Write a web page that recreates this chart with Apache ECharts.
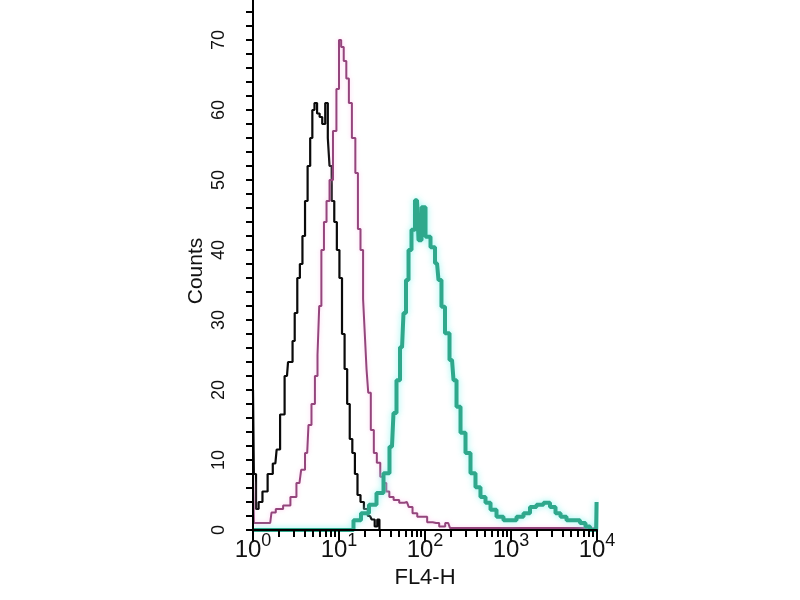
<!DOCTYPE html>
<html>
<head>
<meta charset="utf-8">
<script src="https://cdn.jsdelivr.net/npm/echarts@6/dist/echarts.min.js"></script>
<style>html,body{margin:0;padding:0;background:#fff}#c{width:800px;height:600px}</style>
</head>
<body>
<div id="c"></div>
<script>
// FL4-H positions given as decade exponents (10^e), counts
const blackExp    = [0.00,0.02,0.05,0.08,0.14,0.20,0.26,0.29,0.34,0.395,0.42,0.45,0.47,0.50,0.53,0.56,0.59,0.62,0.65,0.68,0.70,0.73,0.76,0.79,0.82,0.86,0.88,0.90,0.93,0.96,0.99,1.02,1.05,1.08,1.11,1.14,1.17,1.20,1.23,1.27,1.31,1.36,1.40,1.43,1.46,1.48,2.00,3.00,4.00];
const blackCounts = [20,8,3,4,5.5,8,9.5,11.5,16.5,22,24,24,27,31,36,38,42,47,52,56,60,61,59.5,59,58,61,56,52,47,44,40,36,28,23,18,13,11,8,5,4,3,2,1.5,0.5,1.5,0,0,0,0];

const magentaExp    = [0.00,0.02,0.05,0.20,0.23,0.30,0.40,0.47,0.54,0.58,0.63,0.66,0.70,0.74,0.76,0.78,0.81,0.84,0.87,0.91,0.95,0.99,1.01,1.04,1.07,1.10,1.13,1.17,1.21,1.23,1.27,1.29,1.31,1.33,1.35,1.39,1.42,1.46,1.50,1.53,1.57,1.60,1.67,1.73,1.79,1.83,1.88,1.94,2.00,2.05,2.13,2.20,2.27,2.31,3.00,4.00];
const magentaCounts = [7,1,1,1,2.5,3,3.5,4.7,6.7,8.6,11,15,18,22,25,32,40,44,47,50,57,63,70,69,67,64.5,61,56,51,43,40,33,28,23,19.6,14.3,11,9.6,7.6,6.7,5.5,4.7,4.3,3.9,4,3.3,2.4,1.9,1.9,1.1,1,0.5,1,0.3,0.3,0.3];

const tealExp    = [0.00,0.50,1.00,1.128,1.209,1.302,1.395,1.477,1.558,1.616,1.651,1.686,1.733,1.767,1.791,1.826,1.860,1.907,1.942,1.977,2.035,2.093,2.140,2.174,2.209,2.256,2.314,2.349,2.384,2.442,2.500,2.558,2.616,2.674,2.733,2.791,2.872,2.953,3.023,3.105,3.186,3.256,3.337,3.419,3.488,3.547,3.605,3.686,3.767,3.837,3.895,3.942,3.990,4.000];
const tealCounts = [0,0,0,0,1.4,2.4,3.6,5.3,8.1,11.9,16.7,21.4,26.1,31,35.7,40,42.9,47.1,41.4,46.1,41.9,40.4,38.1,35.7,31.9,28.1,24.3,21.4,17.6,13.9,11,8.1,6.1,4.7,3.9,2.9,1.9,1.4,1.4,1.9,2.4,3.3,3.6,3.9,3.3,2.4,1.9,1.4,1.4,1,0.5,0,0,4];

const majorTicks = [1,10,100,1000,10000];
const minorTicks = [];
[1,10,100,1000].forEach(d => { for (let m = 2; m <= 9; m++) minorTicks.push(m * d); });

function pairs(exp, cnt) { return exp.map((e, i) => [Math.pow(10, e), cnt[i]]); }

const chart = echarts.init(document.getElementById('c'), null, {renderer: 'canvas'});
const font = 'Liberation Sans, Arial, sans-serif';
chart.setOption({
  animation: false,
  backgroundColor: '#ffffff',
  grid: {left: 253, right: 203, top: -30, bottom: 70, containLabel: false, outerBoundsMode: 'none'},
  xAxis: [{
    type: 'log', logBase: 10, min: 1, max: 10000, z: 10,
    name: 'FL4-H', nameLocation: 'middle', nameGap: 27,
    nameTextStyle: {fontFamily: font, fontSize: 22, color: '#111'},
    axisLine: {show: true, lineStyle: {color: '#000', width: 2}},
    axisTick: {show: true, inside: false, length: 11, lineStyle: {color: '#000', width: 2}, customValues: majorTicks},
    axisLabel: {
      show: true, margin: 8, customValues: majorTicks,
      formatter: v => '{b|10}{s|' + Math.round(Math.log10(v)) + '}',
      rich: {
        b: {fontFamily: font, fontSize: 24, lineHeight: 24, color: '#111', verticalAlign: 'bottom'},
        s: {fontFamily: font, fontSize: 18, lineHeight: 18, color: '#111', verticalAlign: 'bottom', padding: [0, 0, 12, 0]}
      }
    },
    splitLine: {show: false}, minorTick: {show: false}, minorSplitLine: {show: false}
  }, {
    type: 'log', logBase: 10, min: 1, max: 10000, position: 'bottom', z: 10,
    axisLine: {show: false},
    axisTick: {show: true, inside: false, length: 7, lineStyle: {color: '#000', width: 2}, customValues: minorTicks},
    axisLabel: {show: false},
    splitLine: {show: false}
  }],
  yAxis: {
    type: 'value', min: 0, max: 80, interval: 10, z: 10,
    axisLine: {show: true, lineStyle: {color: '#000', width: 2}},
    axisTick: {show: true, inside: false, length: 7, lineStyle: {color: '#000', width: 2}},
    minorTick: {show: true, splitNumber: 5, length: 7, lineStyle: {color: '#000', width: 2}},
    axisLabel: {show: true, rotate: 90, margin: 25, fontFamily: font, fontSize: 18, color: '#111'},
    splitLine: {show: false}
  },
  graphic: [{
    type: 'text', x: 196, y: 271, rotation: Math.PI / 2,
    style: {text: 'Counts', fontFamily: font, fontSize: 21, fill: '#111', align: 'center', verticalAlign: 'middle'}
  }],
  series: [{
    type: 'line', xAxisIndex: 0, step: 'middle', showSymbol: false, symbol: 'none',
    data: pairs(blackExp, blackCounts),
    lineStyle: {color: '#0a0a0a', width: 2.2}
  }, {
    type: 'line', xAxisIndex: 0, step: 'middle', showSymbol: false, symbol: 'none',
    data: pairs(magentaExp, magentaCounts),
    lineStyle: {color: '#94457c', width: 2, shadowColor: 'rgba(255,190,235,0.7)', shadowBlur: 4}
  }, {
    type: 'line', xAxisIndex: 0, step: 'middle', showSymbol: false, symbol: 'none',
    data: pairs(tealExp, tealCounts),
    lineStyle: {color: '#2fa88c', width: 4, shadowColor: 'rgba(140,245,240,0.9)', shadowBlur: 6}
  }]
});
</script>
</body>
</html>
